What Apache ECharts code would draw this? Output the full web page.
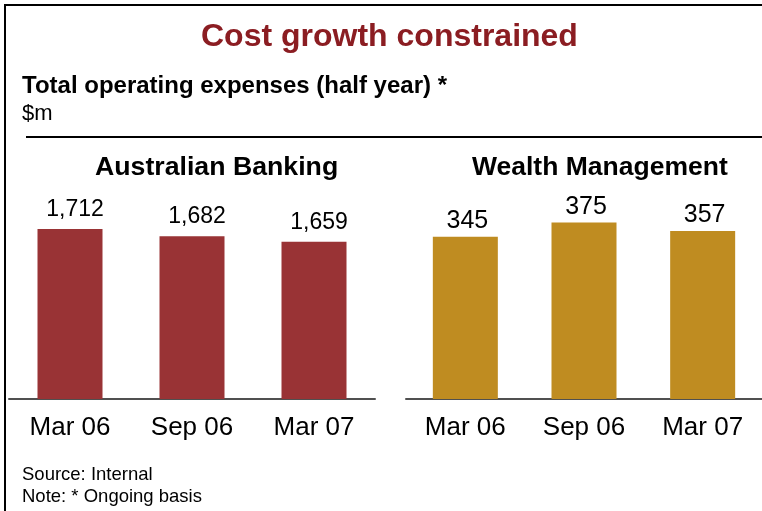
<!DOCTYPE html>
<html>
<head>
<meta charset="utf-8">
<script src="https://cdn.jsdelivr.net/npm/echarts@6/dist/echarts.min.js"></script>
<style>
  html, body { margin: 0; padding: 0; background: #fff; }
  #chart { width: 762px; height: 511px; }
</style>
</head>
<body>
<div id="chart"></div>
<script>
// Half-year periods shared by both panels
const categories = ['Mar 06', 'Sep 06', 'Mar 07'];
// Total operating expenses, $m
const bankingValues = [1712, 1682, 1659];
const wealthValues = [345, 375, 357];
// Panel headings
const panelTitles = ['Australian Banking', 'Wealth Management'];

const FONT = '"Liberation Sans", Arial, Helvetica, sans-serif';
const RED = '#993335';
const GOLD = '#BF8C21';
const TITLE_RED = '#8B1D22';

const chart = echarts.init(document.getElementById('chart'), null, { renderer: 'canvas' });

const fmt = v => Number(v).toLocaleString('en-US');

function textTitle(text, left, top, size, weight, color) {
  return {
    text: text, left: left, top: top, padding: 0,
    textStyle: { fontFamily: FONT, fontSize: size, fontWeight: weight, color: color || '#000' }
  };
}

const axisCommon = {
  type: 'category',
  data: categories,
  axisTick: { show: false },
  axisLine: { lineStyle: { color: '#505050', width: 2 } },
  axisLabel: { color: '#000', fontFamily: FONT, fontSize: 26, margin: 16 }
};

chart.setOption({
  animation: false,
  backgroundColor: '#fff',
  title: [
    textTitle('Cost growth constrained', 201, 21, 32, 'bold', TITLE_RED),
    textTitle('Total operating expenses (half year) *', 22, 74, 24, 'bold'),
    textTitle('$m', 22, 103, 22, 'normal'),
    textTitle(panelTitles[0], 95, 154, 26.7, 'bold'),
    textTitle(panelTitles[1], 472, 154, 26.5, 'bold'),
    textTitle('Source: Internal', 22, 465, 18.5, 'normal'),
    textTitle('Note: * Ongoing basis', 22, 487, 18.5, 'normal')
  ],
  grid: [
    { left: 9, width: 366, top: 199, height: 200 },
    { left: 406, width: 363, top: 199, height: 200 }
  ],
  xAxis: [
    Object.assign({ gridIndex: 0 }, axisCommon),
    Object.assign({ gridIndex: 1 }, axisCommon)
  ],
  yAxis: [
    { gridIndex: 0, type: 'value', min: 1000, max: 1838, show: false },
    { gridIndex: 1, type: 'value', min: 0, max: 425, show: false }
  ],
  series: [
    {
      type: 'bar', xAxisIndex: 0, yAxisIndex: 0, data: bankingValues,
      barWidth: 65, itemStyle: { color: RED },
      label: {
        show: true, position: 'top', distance: 8, offset: [5, 0],
        formatter: p => fmt(p.value),
        fontFamily: FONT, fontSize: 23, color: '#000'
      }
    },
    {
      type: 'bar', xAxisIndex: 1, yAxisIndex: 1, data: wealthValues,
      barWidth: 65, itemStyle: { color: GOLD },
      label: {
        show: true, position: 'top', distance: 3, offset: [2, 0],
        formatter: p => fmt(p.value),
        fontFamily: FONT, fontSize: 25, color: '#000'
      }
    }
  ],
  graphic: [
    // frame along the left and top edges
    {
      type: 'polyline', silent: true,
      shape: { points: [[5, 511], [5, 5], [762, 5]] },
      style: { stroke: '#000', lineWidth: 2, fill: null }
    },
    // rule under the heading block
    {
      type: 'line', silent: true,
      shape: { x1: 26, y1: 137, x2: 762, y2: 137 },
      style: { stroke: '#000', lineWidth: 2 }
    }
  ]
});
</script>
</body>
</html>
